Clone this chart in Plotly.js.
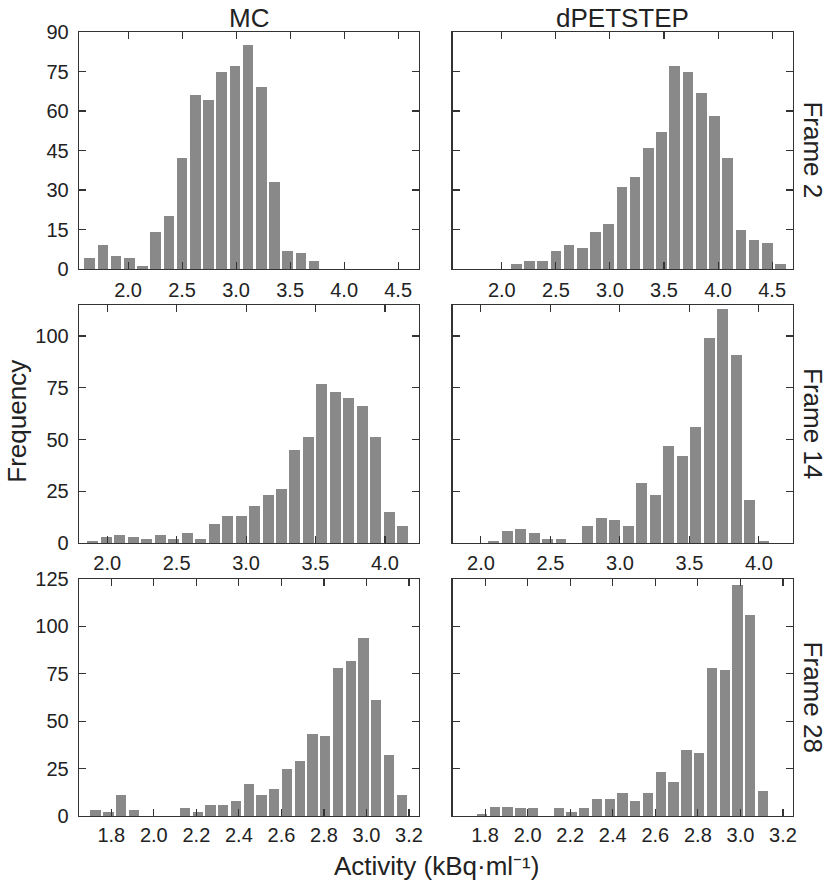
<!DOCTYPE html>
<html>
<head>
<meta charset="utf-8">
<script src="https://cdn.plot.ly/plotly-3.0.1.min.js"></script>
<style>html,body{margin:0;padding:0;background:#fff}#chart{width:829px;height:881px}</style>
</head>
<body>
<div id="chart"></div>
<script>
// Frame 2
const mcF2X = [1.645,1.767,1.889,2.011,2.133,2.256,2.378,2.500,2.622,2.744,2.867,2.989,3.111,3.233,3.355,3.478,3.600,3.722];
const mcF2Y = [4,9,5,4,1,14,20,42,66,64,75,77,85,69,33,7,6,3];
const dpF2X = [2.133,2.256,2.378,2.500,2.622,2.744,2.867,2.989,3.111,3.233,3.355,3.478,3.600,3.722,3.844,3.966,4.089,4.211,4.333,4.455,4.577];
const dpF2Y = [2,3,3,7,9,8,14,17,31,35,46,52,77,75,67,58,42,15,11,10,2];
// Frame 14
const mcF14X = [1.897,1.994,2.091,2.188,2.285,2.382,2.479,2.576,2.673,2.770,2.867,2.964,3.061,3.158,3.255,3.352,3.449,3.546,3.643,3.740,3.837,3.934,4.031,4.128];
const mcF14Y = [1,3,4,3,2,4,2,5,2,9,13,13,18,23,26,45,51,77,73,70,66,51,15,8];
const dpF14X = [2.091,2.188,2.285,2.382,2.479,2.576,2.673,2.770,2.867,2.964,3.061,3.158,3.255,3.352,3.449,3.546,3.643,3.740,3.837,3.934,4.031];
const dpF14Y = [1,6,7,5,2,2,0,8,12,11,8,29,23,47,42,56,99,113,91,21,1];
// Frame 28
const mcF28X = [1.726,1.786,1.846,1.906,1.966,2.026,2.086,2.146,2.206,2.266,2.326,2.386,2.446,2.506,2.566,2.626,2.686,2.746,2.806,2.866,2.926,2.986,3.046,3.106,3.166];
const mcF28Y = [3,2,11,3,0,0,0,4,2,6,6,8,17,11,14,25,29,43,42,78,82,94,61,32,11];
const dpF28X = [1.786,1.846,1.906,1.966,2.026,2.086,2.146,2.206,2.266,2.326,2.386,2.446,2.506,2.566,2.626,2.686,2.746,2.806,2.866,2.926,2.986,3.046,3.106];
const dpF28Y = [1,5,5,4,4,0,4,2,4,9,9,12,8,12,23,18,35,33,78,77,122,106,13];

const columnTitles = ["MC", "dPETSTEP"];
const rowTitles = ["Frame 2", "Frame 14", "Frame 28"];
const xTitle = "Activity (kBq·ml⁻¹)";
const yTitle = "Frequency";

const barColor = '#898989';
const FONT = 'Liberation Sans, Arial, Helvetica, sans-serif';
const TXT = '#222';

function bar(x, y, w, n) {
  return {type:'bar', x:x, y:y, width:w, xaxis: n===1?'x':'x'+n, yaxis: n===1?'y':'y'+n,
    marker:{color:barColor, line:{width:0}}, showlegend:false, hoverinfo:'skip'};
}
const data = [
  bar(mcF2X, mcF2Y, 0.099, 1), bar(dpF2X, dpF2Y, 0.099, 2),
  bar(mcF14X, mcF14Y, 0.079, 3), bar(dpF14X, dpF14Y, 0.079, 4),
  bar(mcF28X, mcF28Y, 0.0485, 5), bar(dpF28X, dpF28Y, 0.0485, 6)
];

const base = {showline:true, linecolor:'#333', linewidth:1.3, mirror:'ticks', ticks:'inside', ticklen:7,
  tickwidth:1.1, tickcolor:'#333', showgrid:false, zeroline:false,
  tickfont:{family:FONT, size:20, color:TXT}};
function ax(o){ return Object.assign({}, base, o); }

const c1 = [0, 0.4762], c2 = [0.5234, 1];
const r1 = [0.6977, 1], r2 = [0.3482, 0.6518], r3 = [0, 0.3023];
const xr1 = [1.546, 4.693], xr2 = [1.797, 4.245], xr3 = [1.648, 3.247];
const tv1 = [2.0,2.5,3.0,3.5,4.0,4.5], tv2 = [2.0,2.5,3.0,3.5,4.0], tv3 = [1.8,2.0,2.2,2.4,2.6,2.8,3.0,3.2];

const layout = {
  width:829, height:881, paper_bgcolor:'#fff', plot_bgcolor:'#fff',
  margin:{l:79, r:36, t:32, b:65},
  font:{family:FONT, color:TXT},
  xaxis: ax({domain:c1, range:xr1, anchor:'y', tickvals:tv1, tickformat:'.1f', ticklabelstandoff:3}),
  xaxis2: ax({domain:c2, range:xr1, anchor:'y2', tickvals:tv1, tickformat:'.1f', ticklabelstandoff:3}),
  xaxis3: ax({domain:c1, range:xr2, anchor:'y3', tickvals:tv2, tickformat:'.1f', ticklabelstandoff:2}),
  xaxis4: ax({domain:c2, range:xr2, anchor:'y4', tickvals:tv2, tickformat:'.1f', ticklabelstandoff:2}),
  xaxis5: ax({domain:c1, range:xr3, anchor:'y5', tickvals:tv3, tickformat:'.1f', ticklabelstandoff:1}),
  xaxis6: ax({domain:c2, range:xr3, anchor:'y6', tickvals:tv3, tickformat:'.1f', ticklabelstandoff:1}),
  yaxis: ax({domain:r1, range:[0,90], anchor:'x', dtick:15, tick0:0, ticklabelstandoff:5}),
  yaxis2: ax({domain:r1, range:[0,90], anchor:'x2', dtick:15, tick0:0, showticklabels:false}),
  yaxis3: ax({domain:r2, range:[0,115], anchor:'x3', dtick:25, tick0:0, ticklabelstandoff:5}),
  yaxis4: ax({domain:r2, range:[0,115], anchor:'x4', dtick:25, tick0:0, showticklabels:false}),
  yaxis5: ax({domain:r3, range:[0,125], anchor:'x5', dtick:25, tick0:0, ticklabelstandoff:5}),
  yaxis6: ax({domain:r3, range:[0,125], anchor:'x6', dtick:25, tick0:0, showticklabels:false}),
  bargap:0,
  annotations: [
    {text:columnTitles[0], x:0.2381, y:1.0179, xref:'paper', yref:'paper', showarrow:false, xanchor:'center', yanchor:'middle', font:{size:26, family:FONT, color:TXT}},
    {text:columnTitles[1], x:0.7619, y:1.0179, xref:'paper', yref:'paper', showarrow:false, xanchor:'center', yanchor:'middle', font:{size:26, family:FONT, color:TXT}},
    {text:rowTitles[0], x:1.028, y:0.849, xref:'paper', yref:'paper', showarrow:false, textangle:90, xanchor:'center', yanchor:'middle', font:{size:26, family:FONT, color:TXT}},
    {text:rowTitles[1], x:1.028, y:0.5, xref:'paper', yref:'paper', showarrow:false, textangle:90, xanchor:'center', yanchor:'middle', font:{size:26, family:FONT, color:TXT}},
    {text:rowTitles[2], x:1.028, y:0.151, xref:'paper', yref:'paper', showarrow:false, textangle:90, xanchor:'center', yanchor:'middle', font:{size:26, family:FONT, color:TXT}},
    {text:yTitle, x:-0.0868, y:0.503, xref:'paper', yref:'paper', showarrow:false, textangle:-90, xanchor:'center', yanchor:'middle', font:{size:26, family:FONT, color:TXT}},
    {text:xTitle, x:0.5, y:-0.0638, xref:'paper', yref:'paper', showarrow:false, xanchor:'center', yanchor:'middle', font:{size:26, family:FONT, color:TXT}}
  ]
};

Plotly.newPlot('chart', data, layout, {displayModeBar:false, staticPlot:true});
</script>
</body>
</html>
